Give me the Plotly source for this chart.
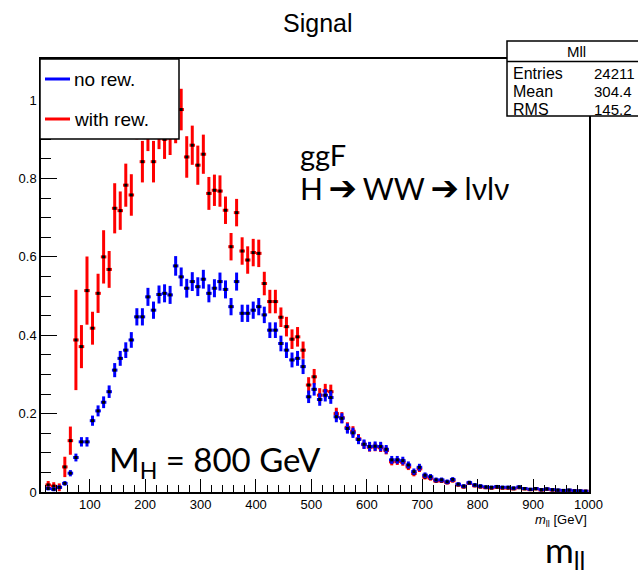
import plotly.graph_objects as go

# ---------------- data ----------------
mass_gev = list(range(25, 1000, 10))  # bin centres, 10 GeV bins (20-1000)
bin_half_width = 5

no_rew = [
    0.009, 0.007, 0.012, 0.022, 0.048, 0.088, 0.128, 0.128, 0.182, 0.207,
    0.229, 0.256, 0.311, 0.341, 0.362, 0.388, 0.447, 0.447, 0.498, 0.464,
    0.504, 0.507, 0.503, 0.577, 0.549, 0.520, 0.537, 0.524, 0.543, 0.507,
    0.520, 0.537, 0.517, 0.473, 0.537, 0.456, 0.456, 0.464, 0.473, 0.452,
    0.413, 0.413, 0.379, 0.362, 0.337, 0.341, 0.320, 0.243, 0.262, 0.236,
    0.247, 0.241, 0.192, 0.188, 0.162, 0.151, 0.134, 0.122, 0.116, 0.117,
    0.116, 0.109, 0.082, 0.082, 0.080, 0.069, 0.052, 0.063, 0.043, 0.039,
    0.031, 0.031, 0.026, 0.032, 0.020, 0.015, 0.024, 0.018, 0.015, 0.013,
    0.012, 0.014, 0.012, 0.012, 0.010, 0.013, 0.009, 0.007, 0.009, 0.006,
    0.008, 0.006, 0.005, 0.004, 0.005, 0.003, 0.003, 0.002,
]
no_rew_err = [
    0.005, 0.005, 0.005, 0.006, 0.008, 0.010, 0.012, 0.012, 0.013, 0.014,
    0.015, 0.016, 0.018, 0.019, 0.020, 0.020, 0.022, 0.022, 0.023, 0.022,
    0.023, 0.023, 0.023, 0.025, 0.024, 0.024, 0.024, 0.024, 0.024, 0.023,
    0.023, 0.023, 0.023, 0.022, 0.023, 0.022, 0.022, 0.022, 0.022, 0.021,
    0.020, 0.020, 0.020, 0.020, 0.019, 0.019, 0.019, 0.016, 0.016, 0.016,
    0.016, 0.016, 0.014, 0.013, 0.013, 0.013, 0.012, 0.012, 0.012, 0.012,
    0.012, 0.011, 0.010, 0.010, 0.010, 0.009, 0.008, 0.009, 0.007, 0.007,
    0.006, 0.006, 0.006, 0.006, 0.005, 0.005, 0.005, 0.005, 0.005, 0.004,
    0.004, 0.004, 0.004, 0.004, 0.004, 0.004, 0.003, 0.003, 0.003, 0.003,
    0.003, 0.003, 0.003, 0.002, 0.002, 0.002, 0.002, 0.002,
]
with_rew = [
    0.018, 0.015, 0.012, 0.064, 0.131, 0.388, 0.371, 0.514, 0.418, 0.507,
    0.600, 0.568, 0.724, 0.718, 0.783, 0.758, 0.950, 0.843, 0.930, 0.843,
    0.930, 0.900, 0.910, 0.940, 0.976, 0.855, 0.885, 0.834, 0.862, 0.762,
    0.770, 0.768, 0.719, 0.626, 0.713, 0.615, 0.592, 0.611, 0.609, 0.532,
    0.486, 0.486, 0.446, 0.422, 0.390, 0.396, 0.362, 0.273, 0.294, 0.247,
    0.258, 0.256, 0.200, 0.190, 0.165, 0.155, 0.136, 0.121, 0.114, 0.115,
    0.113, 0.106, 0.077, 0.078, 0.076, 0.064, 0.047, 0.059, 0.038, 0.035,
    0.028, 0.028, 0.024, 0.029, 0.018, 0.013, 0.022, 0.016, 0.013, 0.011,
    0.010, 0.012, 0.010, 0.010, 0.008, 0.011, 0.008, 0.006, 0.008, 0.005,
    0.007, 0.005, 0.004, 0.003, 0.004, 0.003, 0.002, 0.002,
]
with_rew_err = [
    0.010, 0.010, 0.010, 0.026, 0.036, 0.128, 0.055, 0.087, 0.042, 0.050,
    0.068, 0.047, 0.064, 0.049, 0.055, 0.053, 0.050, 0.053, 0.060, 0.053,
    0.055, 0.050, 0.050, 0.050, 0.053, 0.053, 0.050, 0.050, 0.050, 0.042,
    0.040, 0.040, 0.035, 0.035, 0.035, 0.035, 0.035, 0.035, 0.035, 0.030,
    0.030, 0.030, 0.025, 0.025, 0.025, 0.025, 0.022, 0.020, 0.020, 0.018,
    0.018, 0.018, 0.015, 0.014, 0.013, 0.013, 0.012, 0.011, 0.011, 0.011,
    0.011, 0.010, 0.009, 0.009, 0.009, 0.008, 0.007, 0.008, 0.006, 0.006,
    0.005, 0.005, 0.005, 0.005, 0.004, 0.004, 0.004, 0.004, 0.004, 0.003,
    0.003, 0.003, 0.003, 0.003, 0.003, 0.003, 0.003, 0.003, 0.003, 0.002,
    0.002, 0.002, 0.002, 0.002, 0.002, 0.002, 0.002, 0.002,
]

stats_labels = ["Entries", "Mean", "RMS"]
stats_values = ["24211", "304.4", "145.2"]

# ---------------- figure ----------------
W, H = 638, 580
L, R, T, B = 41, 589, 59, 492
RED, BLUE = "#ff0000", "#0000ff"
ROOT_FONT = "Liberation Sans, Arial, sans-serif"
PPT_FONT = "Lato, Noto Sans, DejaVu Sans, sans-serif"


def px_x(px):
    return (px - L) / (R - L)


def px_y(py):
    return (B - py) / (B - T)


def hist_trace(y, err, color):
    return go.Scatter(
        x=mass_gev, y=y, mode="markers",
        marker=dict(symbol="square", size=3, color="black", line=dict(width=0)),
        error_y=dict(type="data", array=err, color=color, thickness=3, width=0),
        error_x=dict(type="constant", value=bin_half_width, color=color,
                     thickness=3, width=0),
        showlegend=False, hoverinfo="skip",
    )


fig = go.Figure()
fig.add_trace(hist_trace(with_rew, with_rew_err, RED))
fig.add_trace(hist_trace(no_rew, no_rew_err, BLUE))

axis_common = dict(showgrid=False, zeroline=False, showline=True, mirror=True,
                   linecolor="black", linewidth=1.5, ticks="inside",
                   tickcolor="black", tickwidth=1,
                   tickfont=dict(family=ROOT_FONT, size=13, color="black"))

fig.update_xaxes(range=[12, 1001], tick0=0, dtick=100, ticklen=13,
                 minor=dict(dtick=20, ticklen=7, ticks="inside", tickcolor="black"),
                 **axis_common)
fig.update_yaxes(range=[0, 1.105], tick0=0, dtick=0.2, ticklen=16,
                 minor=dict(dtick=0.05, ticklen=10, ticks="inside", tickcolor="black"),
                 **axis_common)

shapes = []
annotations = []

# legend box
shapes.append(dict(type="rect", xref="paper", yref="paper",
                   x0=px_x(40), x1=px_x(179), y0=px_y(139), y1=px_y(59),
                   fillcolor="white", line=dict(color="black", width=1.5)))
for ly, col, txt in [(79, BLUE, "no rew."), (119, RED, "with rew.")]:
    shapes.append(dict(type="line", xref="paper", yref="paper",
                       x0=px_x(45), x1=px_x(70), y0=px_y(ly), y1=px_y(ly),
                       line=dict(color=col, width=3)))
    annotations.append(dict(text=txt, xref="paper", yref="paper",
                            x=px_x(72), y=px_y(ly), xanchor="left", yanchor="middle",
                            showarrow=False,
                            font=dict(family=ROOT_FONT, size=19, color="black")))

# stats box
shapes.append(dict(type="rect", xref="paper", yref="paper",
                   x0=px_x(507), x1=px_x(650), y0=px_y(116), y1=px_y(41),
                   fillcolor="white", line=dict(color="black", width=1.5)))
shapes.append(dict(type="line", xref="paper", yref="paper",
                   x0=px_x(507), x1=px_x(650), y0=px_y(61.5), y1=px_y(61.5),
                   line=dict(color="black", width=1.5)))
annotations.append(dict(text="Mll", xref="paper", yref="paper",
                        x=px_x(576), y=px_y(51.5), xanchor="center", yanchor="middle",
                        showarrow=False,
                        font=dict(family=ROOT_FONT, size=15, color="black")))
for i, (lab, val) in enumerate(zip(stats_labels, stats_values)):
    yy = 74 + 17.5 * i
    annotations.append(dict(text=lab, xref="paper", yref="paper",
                            x=px_x(511), y=px_y(yy), xanchor="left", yanchor="middle",
                            showarrow=False,
                            font=dict(family=ROOT_FONT, size=16, color="black")))
    annotations.append(dict(text=val, xref="paper", yref="paper",
                            x=px_x(592), y=px_y(yy), xanchor="left", yanchor="middle",
                            showarrow=False,
                            font=dict(family=ROOT_FONT, size=15, color="black")))

# title
annotations.append(dict(text="Signal", xref="paper", yref="paper",
                        x=px_x(318), y=px_y(23), xanchor="center", yanchor="middle",
                        showarrow=False,
                        font=dict(family=ROOT_FONT, size=25, color="black")))

# axis label under x axis
annotations.append(dict(text="<i>m</i><sub>ll</sub> [GeV]", xref="paper", yref="paper",
                        x=px_x(589), y=px_y(520), xanchor="right", yanchor="middle",
                        showarrow=False,
                        font=dict(family=ROOT_FONT, size=13, color="black")))

# slide-style annotations
ARROW = '<span style="font-size:34px">\u2794</span>'
SP = "\u2009\u200a"
line1 = '<span style="font-size:29px">ggF</span>'
line2 = ('<span style="font-size:30px">H' + SP + ARROW + SP + 'WW' + SP + ARROW
         + SP + 'l\u03bdl\u03bd</span>')
annotations.append(dict(text=line1 + "<br>" + line2, xref="paper", yref="paper",
                        x=px_x(298), y=px_y(172), xanchor="left", yanchor="middle",
                        align="left", showarrow=False,
                        font=dict(family=PPT_FONT, size=26, color="black")))
annotations.append(dict(text="M<sub>H</sub> = 800 GeV", xref="paper", yref="paper",
                        x=px_x(107), y=px_y(461), xanchor="left", yanchor="middle",
                        showarrow=False,
                        font=dict(family=PPT_FONT, size=33, color="black")))
annotations.append(dict(text="m<sub>ll</sub>", xref="paper", yref="paper",
                        x=px_x(543), y=px_y(551), xanchor="left", yanchor="middle",
                        showarrow=False,
                        font=dict(family=PPT_FONT, size=35, color="black")))

fig.update_layout(
    width=W, height=H, autosize=False,
    margin=dict(l=L, r=W - R, t=T, b=H - B, pad=0),
    plot_bgcolor="white", paper_bgcolor="white",
    shapes=shapes, annotations=annotations,
    showlegend=False,
)

fig.write_html("out.html", config={"displayModeBar": False},
               post_script="document.body.style.margin='0';"
                           "document.body.style.padding='0';")
